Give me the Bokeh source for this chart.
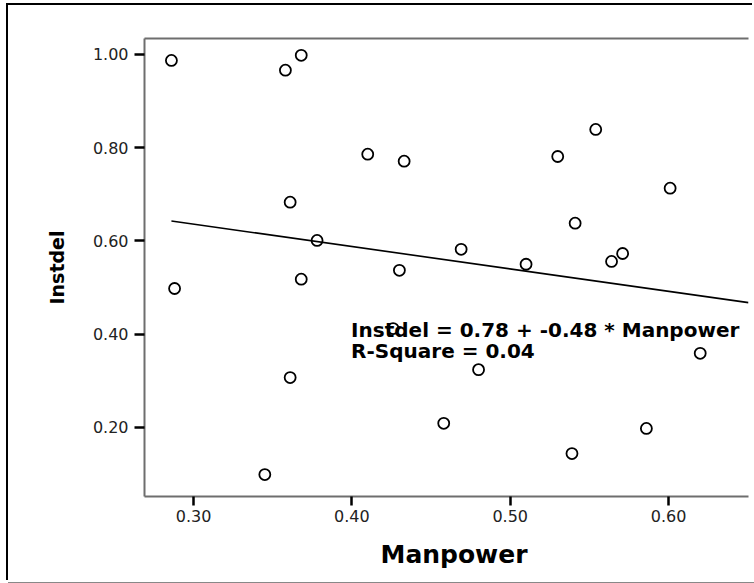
from bokeh.plotting import figure
from bokeh.models import (LinearAxis, Range1d, FixedTicker, Label, ColumnDataSource,
                          PrintfTickFormatter, Title)
from bokeh.embed import file_html
from bokeh.resources import INLINE

# ---- data ----
manpower = [0.286, 0.358, 0.368, 0.410, 0.433, 0.361, 0.378, 0.469, 0.368, 0.430,
            0.554, 0.530, 0.601, 0.541, 0.510, 0.564, 0.571, 0.288, 0.361, 0.458,
            0.345, 0.480, 0.620, 0.586, 0.539, 0.426]
instdel = [0.987, 0.966, 0.998, 0.786, 0.771, 0.683, 0.601, 0.582, 0.518, 0.537,
           0.839, 0.781, 0.713, 0.638, 0.550, 0.556, 0.573, 0.498, 0.307, 0.209,
           0.099, 0.324, 0.359, 0.198, 0.144, 0.412]
intercept = 0.78
slope = -0.48
r_square = 0.04
x_ticks = [0.30, 0.40, 0.50, 0.60]
y_ticks = [0.20, 0.40, 0.60, 0.80, 1.00]

X0, X1 = 0.269, 0.6505
Y0, Y1 = 0.052, 1.034

p = figure(width=746, height=577, output_backend="svg", toolbar_location=None,
           x_range=Range1d(X0, X1), y_range=Range1d(Y0, Y1),
           x_axis_location=None, y_axis_location=None,
           min_border_left=136, min_border_right=6, min_border_top=33, min_border_bottom=86)
p.styles = {"position": "absolute", "left": "8px", "top": "5px",
            "box-shadow": "-2px -2px 0 0 black, 0 1px 0 0 #888888"}
p.outline_line_color = None
p.xgrid.grid_line_color = None
p.ygrid.grid_line_color = None
p.background_fill_color = "white"
p.border_fill_color = "white"

AX = "#6e6e6e"
tick_font = "DejaVu Sans"

xaxis = LinearAxis(ticker=FixedTicker(ticks=x_ticks))
yaxis = LinearAxis(ticker=FixedTicker(ticks=y_ticks))
for ax in (xaxis, yaxis):
    ax.formatter = PrintfTickFormatter(format="%.2f")
    ax.axis_line_color = AX
    ax.axis_line_width = 2
    ax.major_tick_line_color = "black"
    ax.major_tick_line_width = 2.5
    ax.major_tick_in = 0
    ax.minor_tick_line_color = None
    ax.major_label_text_font = tick_font
    ax.major_label_text_font_size = "16px"
    ax.major_label_text_color = "#222222"
xaxis.major_tick_out = 9
xaxis.major_label_standoff = 4
yaxis.major_tick_out = 10
yaxis.major_label_standoff = 6
yaxis.axis_label = "Instdel"
yaxis.axis_label_text_font = "DejaVu Sans"
yaxis.axis_label_text_font_style = "bold"
yaxis.axis_label_text_font_size = "19px"
yaxis.axis_label_text_color = "black"
yaxis.axis_label_standoff = 22

topaxis = LinearAxis(ticker=FixedTicker(ticks=[]), axis_line_color=AX, axis_line_width=2,
                     major_tick_line_color=None, minor_tick_line_color=None,
                     major_label_text_font_size="0px")
p.add_layout(xaxis, "below")
p.add_layout(yaxis, "left")
p.add_layout(topaxis, "above")

xtitle = Title(text="Manpower", align="left", offset=236, text_font="DejaVu Sans",
               text_font_style="bold", text_font_size="25px", text_color="black",
               standoff=27)
p.add_layout(xtitle, "below")

# fit line
fit_x = [min(manpower), X1]
fit_y = [intercept + slope * v for v in fit_x]
p.line(fit_x, fit_y, line_color="black", line_width=1.6)

src = ColumnDataSource(dict(x=manpower, y=instdel))
p.scatter("x", "y", source=src, marker="circle", size=11, fill_alpha=0,
          line_color="black", line_width=1.8)

eq1 = Label(x=0.3995, y=0.410, text="Instdel = %.2f + %.2f * Manpower" % (intercept, slope),
            text_font="DejaVu Sans", text_font_style="bold", text_font_size="20px",
            text_baseline="middle", text_color="black")
eq2 = Label(x=0.3995, y=0.363, text="R-Square = %.2f" % r_square,
            text_font="DejaVu Sans", text_font_style="bold", text_font_size="20px",
            text_baseline="middle", text_color="black")
p.add_layout(eq1)
p.add_layout(eq2)

open("out.html", "w").write(file_html(p, INLINE))
